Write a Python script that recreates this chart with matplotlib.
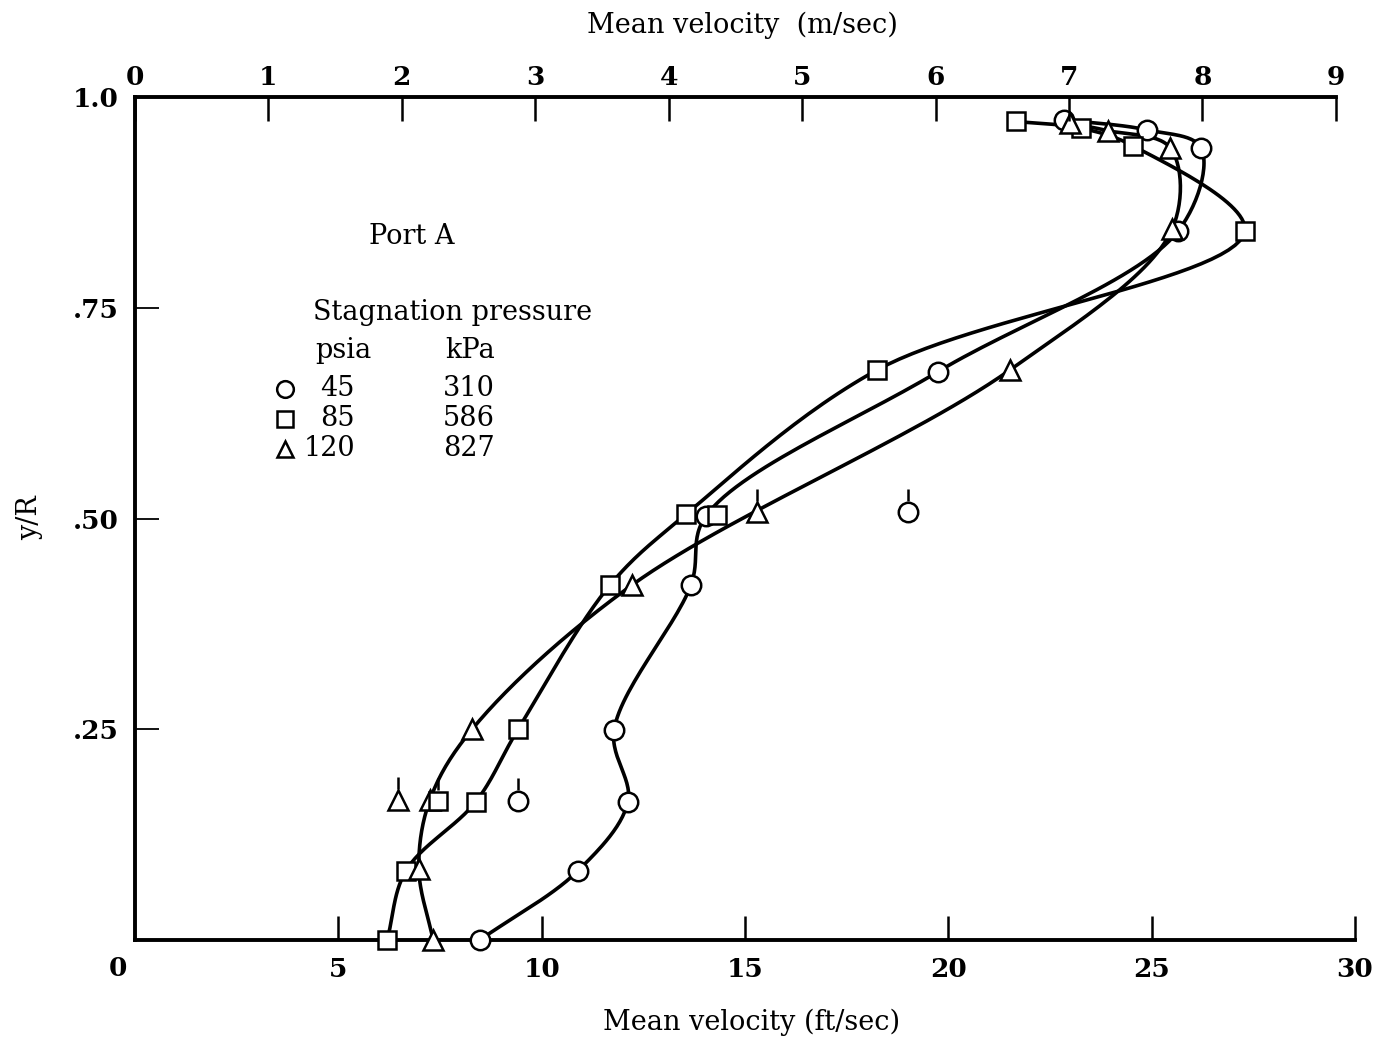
import matplotlib
matplotlib.use("Agg")
import matplotlib.pyplot as plt
import matplotlib.transforms as mtransforms
import numpy as np

plt.rcParams['font.family'] = ['DejaVu Serif']

FT_PER_M = 3.2808

# data: (velocity ft/sec, y/R)
circ_v = [8.48, 10.89, 12.12, 11.78, 13.67, 14.04, 19.74, 25.65, 26.21, 24.88, 22.84]
circ_y = [0.0, 0.082, 0.164, 0.249, 0.421, 0.503, 0.674, 0.841, 0.940, 0.961, 0.973]
sq_v = [6.20, 6.66, 8.38, 9.42, 11.68, 13.55, 18.24, 27.29, 24.54, 23.26, 21.66]
sq_y = [0.0, 0.082, 0.164, 0.250, 0.421, 0.505, 0.676, 0.841, 0.942, 0.963, 0.971]
tri_v = [7.33, 6.98, 7.25, 8.29, 12.22, 21.51, 25.50, 25.45, 23.92, 23.0]
tri_y = [0.0, 0.084, 0.166, 0.250, 0.421, 0.676, 0.843, 0.940, 0.960, 0.969]

# points off the faired curves (flagged ones have a tick on top)
circ_flag_v = [9.42, 19.0]
circ_flag_y = [0.165, 0.508]
sq_flag_v = [7.45]
sq_flag_y = [0.165]
sq_extra_v = [14.31]
sq_extra_y = [0.504]
tri_flag_v = [6.47, 15.29]
tri_flag_y = [0.166, 0.508]

W, H = 1377, 1038


def smooth(xs, ys, n=30):
    # centripetal catmull-rom through the points, in screen-like units
    p = np.column_stack([np.array(xs) / 30.0 * 1220, np.array(ys) * 843])
    p = np.vstack([2 * p[0] - p[1], p, 2 * p[-1] - p[-2]])
    out = []
    for i in range(1, len(p) - 2):
        p0, p1, p2, p3 = p[i - 1], p[i], p[i + 1], p[i + 2]
        t0 = 0.0
        t1 = t0 + np.linalg.norm(p1 - p0) ** 0.5
        t2 = t1 + np.linalg.norm(p2 - p1) ** 0.5
        t3 = t2 + np.linalg.norm(p3 - p2) ** 0.5
        t = np.linspace(t1, t2, n)[:, None]
        a1 = (t1 - t) / (t1 - t0) * p0 + (t - t0) / (t1 - t0) * p1
        a2 = (t2 - t) / (t2 - t1) * p1 + (t - t1) / (t2 - t1) * p2
        a3 = (t3 - t) / (t3 - t2) * p2 + (t - t2) / (t3 - t2) * p3
        b1 = (t2 - t) / (t2 - t0) * a1 + (t - t0) / (t2 - t0) * a2
        b2 = (t3 - t) / (t3 - t1) * a2 + (t - t1) / (t3 - t1) * a3
        c = (t2 - t) / (t2 - t1) * b1 + (t - t1) / (t2 - t1) * b2
        out.append(c)
    c = np.vstack(out)
    return c[:, 0] / 1220 * 30.0, c[:, 1] / 843


fig = plt.figure(figsize=(W / 100, H / 100), dpi=100)
ax = fig.add_axes([135 / W, 1 - 940 / H, 1220 / W, 843 / H])
ax.set_xlim(0, 30)
ax.set_ylim(0, 1.0)

lw = 2.6
mk = dict(markerfacecolor='white', markeredgecolor='black', markeredgewidth=1.8,
          linestyle='none', zorder=3, clip_on=False)
ms_c, ms_s, ms_t = 14, 12.5, 15

for xs, ys in [(circ_v, circ_y), (sq_v, sq_y), (tri_v, tri_y)]:
    cx, cy = smooth(xs, ys)
    ax.plot(cx, cy, color='black', lw=lw, zorder=2, clip_on=False)

ax.plot(circ_v, circ_y, marker='o', markersize=ms_c, **mk)
ax.plot(sq_v, sq_y, marker='s', markersize=ms_s, **mk)
ax.plot(tri_v, tri_y, marker='^', markersize=ms_t, **mk)

ax.plot(circ_flag_v, circ_flag_y, marker='o', markersize=ms_c, **mk)
ax.plot(sq_flag_v, sq_flag_y, marker='s', markersize=ms_s, **mk)
ax.plot(sq_extra_v, sq_extra_y, marker='s', markersize=ms_s, **mk)
ax.plot(tri_flag_v, tri_flag_y, marker='^', markersize=ms_t, **mk)

# flag ticks above the flagged symbols
flag_tr = mtransforms.offset_copy(ax.transData, fig=fig, x=0, y=12, units='points')
for xs, ys in [(circ_flag_v, circ_flag_y), (sq_flag_v, sq_flag_y), (tri_flag_v, tri_flag_y)]:
    ax.plot(xs, ys, marker='|', markersize=9, markeredgewidth=1.8, color='black',
            linestyle='none', transform=flag_tr, zorder=4, clip_on=False)

# spines and ticks
ax.spines['right'].set_visible(False)
ax.spines['top'].set_visible(False)
for s in ['left', 'bottom']:
    ax.spines[s].set_linewidth(2.8)

tfs = 19
ax.set_xticks([5, 10, 15, 20, 25, 30])
ax.set_xticklabels(['5', '10', '15', '20', '25', '30'])
ax.set_yticks([0.25, 0.5, 0.75, 1.0])
ax.set_yticklabels(['.25', '.50', '.75', '1.0'])
ax.tick_params(axis='x', direction='in', length=17, width=1.8, pad=12, labelsize=tfs)
ax.tick_params(axis='y', direction='in', length=17, width=1.3, pad=12, labelsize=tfs)
for lab in ax.get_xticklabels() + ax.get_yticklabels():
    lab.set_fontweight('bold')

top = ax.twiny()
top.set_xlim(0, 30 / FT_PER_M)
top.spines['right'].set_visible(False)
top.spines['left'].set_visible(False)
top.spines['bottom'].set_visible(False)
top.spines['top'].set_linewidth(2.8)
top.spines['top'].set_bounds(0, 9)
top.set_xticks(range(10))
top.tick_params(axis='x', direction='in', length=17, width=1.8, pad=5, labelsize=tfs)
for lab in top.get_xticklabels():
    lab.set_fontweight('bold')

fs = 19.5
fig.text(118 / W, 1 - 968 / H, '0', ha='center', va='center', fontsize=tfs, fontweight='bold')
fig.text(742 / W, 1 - 25 / H, 'Mean velocity  (m/sec)', ha='center', va='center', fontsize=fs)
fig.text(752 / W, 1 - 1022 / H, 'Mean velocity (ft/sec)', ha='center', va='center', fontsize=fs)
fig.text(30 / W, 1 - 518 / H, 'y/R', ha='center', va='center', rotation=90, fontsize=fs)

# key
fig.text(412 / W, 1 - 236 / H, 'Port A', ha='center', va='center', fontsize=fs)
fig.text(313 / W, 1 - 313 / H, 'Stagnation pressure', ha='left', va='center', fontsize=fs)
fig.text(315 / W, 1 - 350 / H, 'psia', ha='left', va='center', fontsize=fs)
fig.text(445 / W, 1 - 350 / H, 'kPa', ha='left', va='center', fontsize=fs)
key_psia = ['45', '85', '120']
key_kpa = ['310', '586', '827']
key_mk = ['o', 's', '^']
key_y = [389, 419, 449]
for m, p, k, yy in zip(key_mk, key_psia, key_kpa, key_y):
    fig.lines.append(plt.Line2D([285 / W], [1 - yy / H], transform=fig.transFigure,
                                marker=m, markersize=12 if m != 's' else 11,
                                markerfacecolor='white', markeredgecolor='black',
                                markeredgewidth=1.8, linestyle='none'))
    fig.text(355 / W, 1 - yy / H, p, ha='right', va='center', fontsize=fs)
    fig.text(443 / W, 1 - yy / H, k, ha='left', va='center', fontsize=fs)

fig.savefig('out.png', dpi=100)
